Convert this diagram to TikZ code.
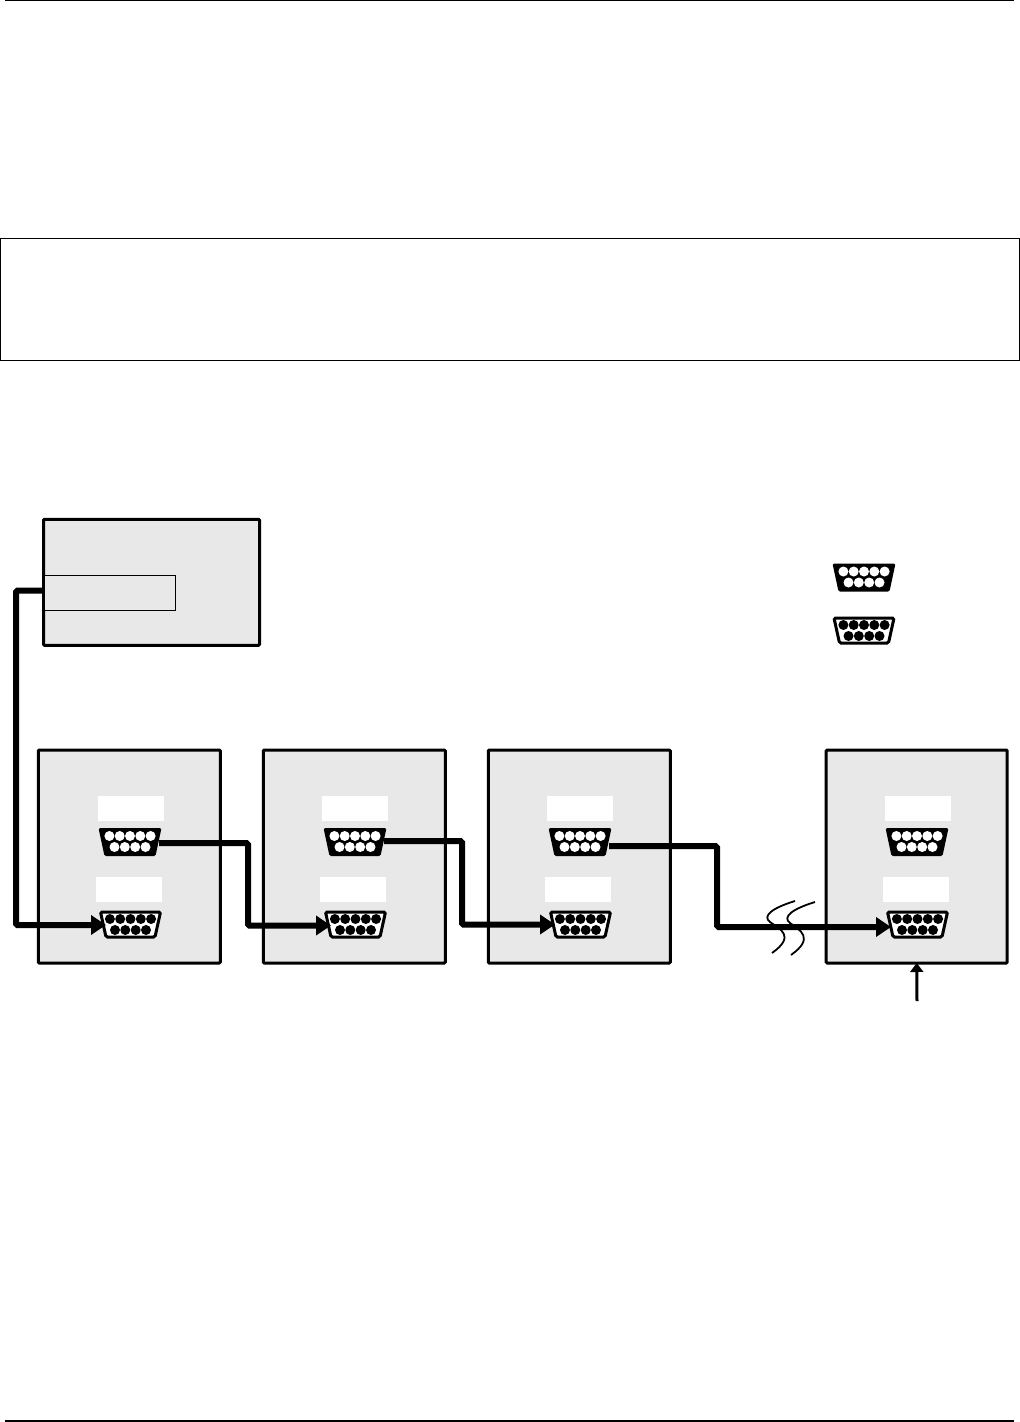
\documentclass[tikz,border=0pt]{standalone}
\usetikzlibrary{arrows.meta}
\definecolor{panel}{HTML}{E8E8E8}
\tikzset{
  x=1pt,y=-1pt,
  unitbox/.style={draw=black,fill=panel,line width=3pt,rounded corners=1pt,inner sep=0pt,outer sep=0pt,minimum width=182pt,minimum height=213pt},
  hostbox/.style={unitbox,minimum width=216pt,minimum height=126pt},
  portbox/.style={draw=black,fill=panel,line width=1pt,inner sep=0pt,outer sep=0pt,minimum width=131pt,minimum height=35pt},
  framebox/.style={draw=black,line width=1pt,inner sep=0pt,outer sep=0pt,minimum width=1019pt,minimum height=122pt},
  tag/.style={fill=white,inner sep=0pt,outer sep=0pt,minimum width=66pt,minimum height=25pt},
  wire/.style={draw=black,line width=6pt,rounded corners=1.5pt},
  wirearrow/.style={wire,-{Triangle[length=15pt,width=19pt]}},
  breakline/.style={draw=black,line width=1.8pt},
  uparrow/.style={draw=black,line width=3pt,-{Triangle[length=9pt,width=13pt]}},
  rule/.style={draw=black,line width=1.2pt},
  male/.pic={
    \fill[black,rounded corners=1.5pt] (-31.5,-14)--(31.5,-14)--(25.5,14)--(-25.5,14)--cycle;
    \foreach \i in {-20.6,-10.3,0,10.3,20.6}{\fill[white] (\i,-6) circle[radius=5pt];}
    \foreach \i in {-15.5,-5.2,5.2,15.5}{\fill[white] (\i,5) circle[radius=5pt];}
    \coordinate (-out) at (29,0);
  },
  female/.pic={
    \draw[black,fill=white,line width=3pt,rounded corners=1.5pt] (-30,-12.5)--(30,-12.5)--(24.5,12.5)--(-24.5,12.5)--cycle;
    \foreach \i in {-20.6,-10.3,0,10.3,20.6}{\fill[black] (\i,-5.5) circle[radius=5pt];}
    \foreach \i in {-15.5,-5.2,5.2,15.5}{\fill[black] (\i,5.5) circle[radius=5pt];}
    \coordinate (-in) at (-26,0);
  }
}
\begin{document}
\begin{tikzpicture}
\useasboundingbox (0,0) rectangle (1020,1422);
\coordinate (ruleAl) at (5,0.6); \coordinate (ruleAr) at (1014,0.6);
\coordinate (ruleBl) at (5,1421); \coordinate (ruleBr) at (1014,1421);
\draw[rule] (ruleAl) -- (ruleAr);
\draw[rule] (ruleBl) -- (ruleBr);
\node[framebox] (note) at (510,299.5) {};

\node[hostbox] (host) at (151.5,582.3) {};
\node[portbox,anchor=north west] (hostport) at (44.5,575.5) {};

\node[unitbox] (u1) at (129.3,856.5) {};
\node[unitbox] (u2) at (354.3,856.5) {};
\node[unitbox] (u3) at (579.3,856.5) {};
\node[unitbox,minimum width=181pt] (u4) at (916.7,856.5) {};

\node[tag] (t1a) at (131,808.5) {}; \node[tag] (t1b) at (129,889.5) {};
\node[tag] (t2a) at (355,808.5) {}; \node[tag] (t2b) at (353,889.5) {};
\node[tag] (t3a) at (580,808.5) {}; \node[tag] (t3b) at (578,889.5) {};
\node[tag] (t4a) at (918,808.5) {}; \node[tag] (t4b) at (916,889.5) {};

\pic (m1) at (130,842) {male};
\pic (m2) at (355,842) {male};
\pic (m3) at (580,842) {male};
\pic (m4) at (917,842) {male};
\pic (f1) at (130.5,924.5) {female};
\pic (f2) at (355.5,924.5) {female};
\pic (f3) at (580.5,924.5) {female};
\pic (f4) at (917.5,924.5) {female};
\pic (lm) at (864,577.5) {male};
\pic (lf) at (864,630.5) {female};

% connectors
\coordinate (hostout) at (43,590.7);
\coordinate (w0a) at (16,590.7);
\coordinate (w0b) at (16,925);
\coordinate (tip1) at (106,925);
\draw[wirearrow] (hostout) -- (w0a) -- (w0b) -- (tip1);

\coordinate (w1a) at (248,843);
\coordinate (w1b) at (248,925.5);
\coordinate (tip2) at (331,925.5);
\draw[wirearrow] (m1-out) ++(0,1) -- (w1a) -- (w1b) -- (tip2);

\coordinate (w2s) at (384,841);
\coordinate (w2a) at (462,841);
\coordinate (w2b) at (462,924.5);
\coordinate (tip3) at (555,924.5);
\draw[wirearrow] (w2s) -- (w2a) -- (w2b) -- (tip3);

\coordinate (w3s) at (609,846);
\coordinate (w3a) at (717,846);
\coordinate (w3b) at (717,927);
\coordinate (tip4) at (891,927);
\draw[wirearrow] (w3s) -- (w3a) -- (w3b) -- (tip4);

% cable break
\coordinate (b1s) at (795,901); \coordinate (b1e) at (772,953);
\coordinate (b2s) at (815,902); \coordinate (b2e) at (791,955);
\draw[breakline] (b1s) .. controls (772,908) and (762,916) .. (770,922) .. controls (780,929) and (796,936) .. (772,953);
\draw[breakline] (b2s) .. controls (792,909) and (782,917) .. (790,923) .. controls (800,930) and (815,938) .. (791,955);

\coordinate (upfoot) at (917,1001);
\draw[uparrow] (upfoot) -- (u4.south);
\end{tikzpicture}
\end{document}
